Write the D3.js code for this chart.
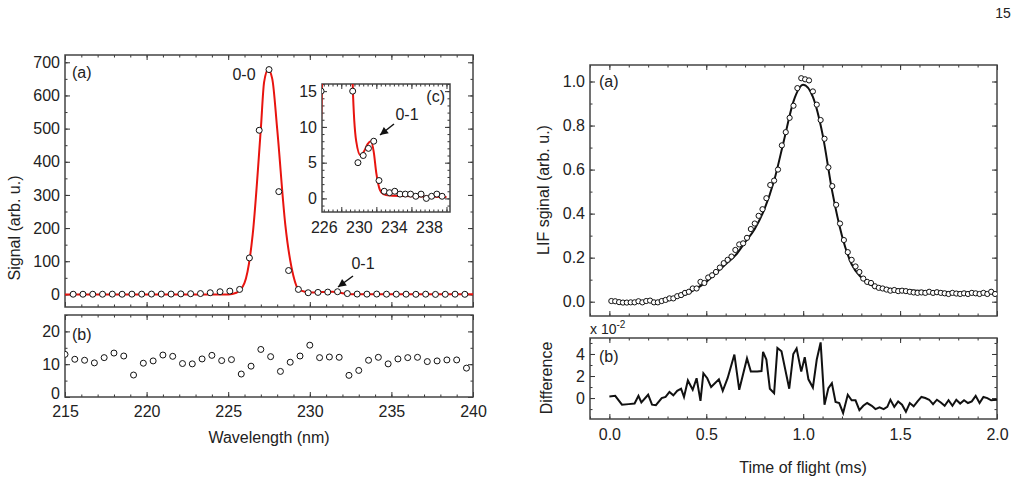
<!DOCTYPE html>
<html><head><meta charset="utf-8">
<script src="https://cdn.jsdelivr.net/npm/d3@7"></script>
<style>body{margin:0;background:#fff}text{font-family:"Liberation Sans",Arial,sans-serif;fill:#222}</style>
</head><body><svg id="c" width="1021" height="484"></svg>
<script>
// ---- data ----
const specX0 = 215.5, specStep = 0.6;
const specVals = [0.5,0.5,0.5,0.5,0.8,0.5,0.8,0.8,1,1,1,1.5,2,2.5,5,8,10,15,110,495,678,310,72,15,5,6,7,8,2.5,1,0.8,1,0.6,0.6,0.6,0.3,0.6,0,0.3,0.6,0.3];
const fitX = [215,225,225.5,226,226.5,227,227.2,227.45,227.7,228,228.5,229,229.3,229.7,230.2,230.6,231,231.4,231.7,232,232.4,232.8,233.5,236,240];
const fitY = [0,0,5,35,180,500,640,678,650,500,210,55,16,8,6,6.6,7.6,8,6.5,3.5,1.2,0.6,0.4,0.3,0.2];
const resX0 = 215.0;
const resVals = [13,11.5,11.2,10.4,12,13.4,12.5,6.7,10.3,11,12.8,12.4,10.2,10.1,11.6,12.7,11.1,11.4,7,9.4,14.5,12.3,7.8,10.6,12.5,15.8,12,12.2,12.1,6.6,8.1,11.2,12.1,10.1,11.6,12,12.1,10.8,11,11.3,11.3,8.8];
const tofT0 = 0.01, tofStep = 0.02;
const tofVals = [0.003,0.002,-0.002,-0.004,-0.004,-0.003,-0.003,0.002,-0.003,0.003,0.005,-0.003,-0.003,0.003,0.008,0.015,0.015,0.025,0.03,0.04,
0.045,0.06,0.06,0.09,0.085,0.11,0.12,0.135,0.155,0.175,0.19,0.205,0.235,0.26,0.265,0.29,0.33,0.355,0.39,0.42,
0.47,0.53,0.55,0.6,0.71,0.77,0.835,0.89,0.97,1.015,1.01,1.005,0.955,0.895,0.825,0.74,0.61,0.525,0.44,0.355,
0.28,0.225,0.19,0.16,0.135,0.105,0.09,0.085,0.07,0.063,0.06,0.055,0.05,0.053,0.048,0.05,0.048,0.045,0.042,0.04,
0.042,0.04,0.045,0.04,0.043,0.04,0.038,0.035,0.04,0.037,0.035,0.038,0.035,0.04,0.038,0.035,0.04,0.035,0.045,0.035];
const tofFitT = [0.01,0.25,0.3,0.35,0.4,0.45,0.5,0.55,0.6,0.65,0.7,0.75,0.8,0.85,0.9,0.95,1.0,1.05,1.1,1.15,1.2,1.25,1.3,1.35,1.4,1.5,1.6,1.8,2.0];
const tofFitV = [0,0,0.005,0.02,0.035,0.06,0.09,0.13,0.17,0.21,0.27,0.33,0.42,0.55,0.73,0.91,0.985,0.93,0.76,0.5,0.3,0.17,0.11,0.075,0.065,0.055,0.05,0.042,0.038];
const diffT = [0,0.03,0.065,0.1,0.13,0.15,0.165,0.2,0.22,0.24,0.27,0.29,0.31,0.33,0.35,0.37,0.385,0.405,0.43,0.45,0.47,0.485,0.505,0.525,0.565,0.585,0.61,0.645,0.67,0.71,0.73,0.763,0.785,0.793,0.81,0.828,0.85,0.867,0.888,0.928,0.949,0.966,0.99,1.008,1.027,1.05,1.07,1.09,1.11,1.13,1.148,1.167,1.186,1.206,1.23,1.25,1.27,1.29,1.31,1.33,1.354,1.373,1.394,1.415,1.434,1.45,1.47,1.49,1.51,1.53,1.55,1.57,1.59,1.61,1.63,1.65,1.67,1.69,1.71,1.73,1.75,1.77,1.79,1.81,1.83,1.85,1.87,1.89,1.91,1.93,1.95,1.97,2.0];
const diffV = [0.15,0.2,-0.6,-0.55,-0.5,0.2,-0.4,0.3,-0.6,-0.65,0,0.1,0.55,0.25,0.65,0.85,0.1,1.6,0.75,1.8,-0.25,2.25,1.8,1.0,1.7,0.65,1.8,3.95,0.75,3.6,2.4,2.4,2.45,4.2,3.5,0.85,0.45,4.55,4.25,0.85,4.0,4.5,2.4,3.7,1.7,0.95,3.5,5.05,-0.6,0.9,1.35,-0.35,-0.45,-1.35,0.3,-0.2,-0.2,-1.1,-0.7,-0.45,-0.7,-1.0,-0.85,-1.0,-0.8,-0.15,-0.8,-0.3,-0.6,-1.25,-0.45,-0.75,-0.3,0.1,0,-0.15,-0.55,-0.15,-0.4,-0.7,-0.2,-0.7,-0.15,-0.5,-0.2,-0.45,-0.3,0.2,-0.45,0.1,0,-0.2,-0.15];

const FS = 16;
const svg = d3.select("#c");
function panel(o){
  const x = d3.scaleLinear().domain(o.xd).range([o.l,o.r]);
  const y = d3.scaleLinear().domain(o.yd).range([o.b,o.t]);
  const g = svg.append("g");
  if(o.bg) g.append("rect").attr("x",o.l).attr("y",o.t).attr("width",o.r-o.l).attr("height",o.b-o.t).attr("fill","#fff");
  const ax = (sc, gen, tr, step, size) => {
    const a = gen(sc).tickValues(d3.range(Math.ceil(sc.domain()[0]/step-1e-9)*step, sc.domain()[1]+1e-9, step)).tickSize(size).tickFormat("");
    const gg = g.append("g").attr("transform",tr).call(a);
    gg.select(".domain").remove(); gg.selectAll("line").attr("stroke","#333").attr("stroke-width",1);
  };
  [[o.xmaj,-5],[o.xmin,-2.5]].forEach(([s,z])=>{ax(x,d3.axisBottom,`translate(0,${o.b})`,s,z);ax(x,d3.axisTop,`translate(0,${o.t})`,s,z);});
  [[o.ymaj,-5],[o.ymin,-2.5]].forEach(([s,z])=>{ax(y,d3.axisLeft,`translate(${o.l},0)`,s,z);ax(y,d3.axisRight,`translate(${o.r},0)`,s,z);});
  if(o.yl){const a=d3.axisLeft(y).tickValues(o.yl).tickSize(0).tickPadding(5).tickFormat(o.yf||(d=>d));
    const gg=g.append("g").attr("transform",`translate(${o.l},0)`).call(a);gg.select(".domain").remove();gg.selectAll("text").attr("font-size",FS).style("font-family","Liberation Sans");
    if(o.ylShift) gg.selectAll("text").attr("dy",(d,i)=> i===0 ? "0.1em" : "0.32em");}
  if(o.xl){const a=d3.axisBottom(x).tickValues(o.xl).tickSize(0).tickPadding(o.xpad||8).tickFormat(o.xf||(d=>d));
    const gg=g.append("g").attr("transform",`translate(0,${o.b})`).call(a);gg.select(".domain").remove();gg.selectAll("text").attr("font-size",FS).style("font-family","Liberation Sans");}
  g.append("rect").attr("x",o.l).attr("y",o.t).attr("width",o.r-o.l).attr("height",o.b-o.t).attr("fill","none").attr("stroke","#444").attr("stroke-width",1.5);
  const clip="cl"+Math.random().toString(36).slice(2);
  svg.append("clipPath").attr("id",clip).append("rect").attr("x",o.l).attr("y",o.t).attr("width",o.r-o.l).attr("height",o.b-o.t);
  const inner = svg.append("g").attr("clip-path",`url(#${clip})`);
  return {x,y,inner,g};
}
function circles(p, xs, ys, r){
  p.inner.selectAll(null).data(xs).enter().append("circle").attr("cx",d=>p.x(d)).attr("cy",(d,i)=>p.y(ys[i])).attr("r",r||3).attr("fill","#fff").attr("stroke","#111").attr("stroke-width",1);
}
function line(p, xs, ys, col, w, curve){
  p.inner.append("path").attr("d",d3.line().x(d=>p.x(d)).y((d,i)=>p.y(ys[i])).curve(curve||d3.curveLinear)(xs)).attr("fill","none").attr("stroke",col).attr("stroke-width",w);
}
function txt(x,y,s,size,anchor,rot){const t=svg.append("text").attr("x",x).attr("y",y).attr("font-size",size).attr("text-anchor",anchor||"start").text(s);if(rot)t.attr("transform",`rotate(-90,${x},${y})`);return t;}
function arrow(x1,y1,x2,y2){
  svg.append("line").attr("x1",x1).attr("y1",y1).attr("x2",x2).attr("y2",y2).attr("stroke","#111").attr("stroke-width",1.5);
  const a=Math.atan2(y2-y1,x2-x1),L=8,W=4;
  const p=[[x2,y2],[x2-L*Math.cos(a)+W*Math.sin(a),y2-L*Math.sin(a)-W*Math.cos(a)],[x2-L*Math.cos(a)-W*Math.sin(a),y2-L*Math.sin(a)+W*Math.cos(a)]];
  svg.append("polygon").attr("points",p.map(q=>q.join(",")).join(" ")).attr("fill","#111");
}
const specX = specVals.map((d,i)=>specX0+i*specStep);
const resX = resVals.map((d,i)=>resX0+i*specStep);
const tofT = tofVals.map((d,i)=>tofT0+i*tofStep);

// left top
const p1 = panel({l:65,r:473,t:55,b:307,xd:[215,240],yd:[-38,722],xmaj:5,xmin:1,ymaj:100,ymin:50,yl:[0,100,200,300,400,500,600,700]});
line(p1,fitX,fitY,"#e8140f",2,d3.curveMonotoneX);
circles(p1,specX,specVals);
// inset
const p3 = panel({bg:true,l:322,r:450,t:84,b:212,xd:[225.8,240.4],yd:[-1.9,16],xmaj:4,xmin:0.5,ymaj:5,ymin:1,yl:[0,5,10,15],xl:[226,230,234,238],xpad:10});
line(p3,fitX,fitY,"#e8140f",2,d3.curveMonotoneX);
circles(p3,specX,specVals);
// left bottom
const p2 = panel({ylShift:true,l:65,r:473,t:315,b:397,xd:[215,240],yd:[0,25],xmaj:5,xmin:1,ymaj:10,ymin:5,yl:[0,10,20],xl:[215,220,225,230,235,240],xpad:9});
circles(p2,resX,resVals);
// right top
const p4 = panel({l:590,r:997,t:65,b:316,xd:[-0.1,2.0],yd:[-0.065,1.075],xmaj:0.5,xmin:0.1,ymaj:0.2,ymin:0.1,yl:[0,0.2,0.4,0.6,0.8,1.0],yf:d3.format(".1f")});
line(p4,tofFitT,tofFitV,"#111",2,d3.curveMonotoneX);
circles(p4,tofT,tofVals,2.6);
// right bottom
const p5 = panel({l:590,r:997,t:338,b:419,xd:[-0.1,2.0],yd:[-1.9,5.45],xmaj:0.5,xmin:0.1,ymaj:2,ymin:1,yl:[0,2,4],xl:[0,0.5,1.0,1.5,2.0],xf:d3.format(".1f"),xpad:10});
line(p5,diffT,diffV,"#111",2);

// texts
txt(1003,18,"15",14,"middle");
txt(72,78,"(a)",FS);
txt(72,340,"(b)",FS);
txt(445,102,"(c)",FS,"end");
txt(244,80,"0-0",FS,"middle");
txt(363,269,"0-1",FS,"middle");
arrow(353,276,338,287);
txt(407,120,"0-1",FS,"middle");
arrow(394,124,380,135);
txt(599,87,"(a)",FS);
txt(599,362,"(b)",FS);
txt(269,443,"Wavelength (nm)",FS,"middle");
txt(803,473,"Time of flight (ms)",FS,"middle");
txt(20,228,"Signal (arb. u.)",FS,"middle",true);
txt(549,190,"LIF sginal (arb. u.)",FS,"middle",true);
txt(552,378,"Difference",FS,"middle",true);
const e=txt(590,334,"x 10",14);
e.append("tspan").attr("dy",-6).attr("font-size",10).text("-2");
</script></body></html>
